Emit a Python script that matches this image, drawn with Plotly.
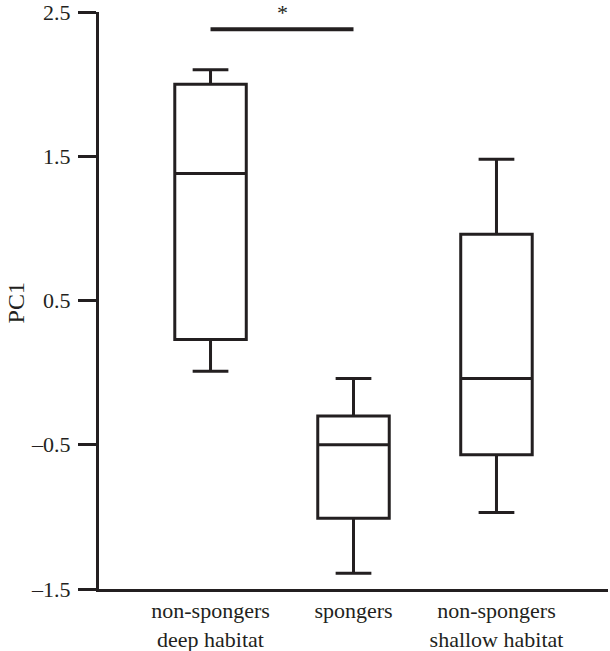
import plotly.graph_objects as go

categories = ["non-spongers<br>deep habitat", "spongers", "non-spongers<br>shallow habitat"]
positions = [0, 1, 2]
lower_whisker = [0.01, -1.39, -0.97]
q1_vals = [0.23, -1.01, -0.57]
median_vals = [1.38, -0.50, -0.04]
q3_vals = [2.00, -0.30, 0.96]
upper_whisker = [2.10, -0.04, 1.48]

y_tick_vals = [2.5, 1.5, 0.5, -0.5, -1.5]
y_tick_text = ["2.5", "1.5", "0.5", "–0.5", "–1.5"]

sig_x = [0, 1]
sig_y = 2.38

ink = "#231f20"
fig = go.Figure()
fig.add_trace(go.Box(
    x=positions, q1=q1_vals, median=median_vals, q3=q3_vals,
    lowerfence=lower_whisker, upperfence=upper_whisker,
    width=0.5, whiskerwidth=0.5,
    line=dict(color=ink, width=3), fillcolor="rgba(0,0,0,0)",
    boxpoints=False, showlegend=False, hoverinfo="skip",
))
fig.add_trace(go.Scatter(
    x=sig_x, y=[sig_y, sig_y], mode="lines",
    line=dict(color=ink, width=4), showlegend=False, hoverinfo="skip",
))
fig.add_annotation(x=0.5, yref="paper", y=1 + 12 / 577, text="*", showarrow=False,
                   font=dict(size=22, color=ink, family="Liberation Serif"),
                   yanchor="top", yshift=2)
fig.add_annotation(xref="paper", yref="paper", x=(16 - 99) / 509, y=0.495,
                   text="PC1", showarrow=False, textangle=-90,
                   xanchor="center", yanchor="middle",
                   font=dict(size=24, color=ink, family="Liberation Serif"))

fig.update_layout(
    width=610, height=651,
    margin=dict(l=99, r=2, t=12, b=62),
    plot_bgcolor="white", paper_bgcolor="white",
    font=dict(family="Liberation Serif", size=22, color=ink),
    xaxis=dict(
        range=[-0.78, 2.78], tickvals=positions, ticktext=categories,
        showline=True, linecolor=ink, linewidth=3, ticks="", showgrid=False,
        zeroline=False, tickfont=dict(size=22), automargin=False,
        ticklabelstandoff=0, ticklabeloverflow="allow",
    ),
    yaxis=dict(
        range=[-1.5, 2.5], tickvals=y_tick_vals, ticktext=y_tick_text,
        showline=True, linecolor=ink, linewidth=3, ticks="outside",
        ticklen=18, tickwidth=3, tickcolor=ink, showgrid=False, zeroline=False,
        tickfont=dict(size=22), automargin=False, ticklabelstandoff=3,
        ticklabeloverflow="allow",
    ),
)
fig.write_html("out.html", config={"displayModeBar": False},
               post_script="document.body.style.margin='0';")
